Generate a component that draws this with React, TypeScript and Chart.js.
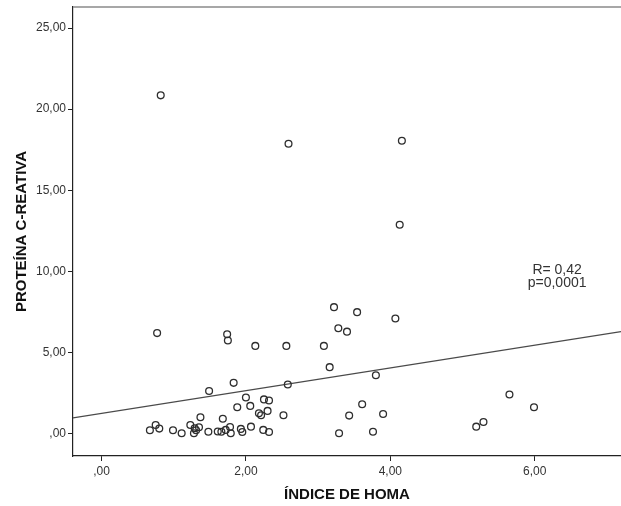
import React, { useEffect, useRef } from "react";
import { Chart, registerables } from "chart.js";

Chart.register(...registerables);

const HOMA: number[] = [
  0.82, 2.59, 4.16, 4.13, 3.22, 3.54, 4.07, 3.28, 3.40, 3.08,
  3.16, 3.80, 3.61, 3.43, 3.90, 3.29, 3.76, 5.65, 5.99, 5.29,
  5.19, 0.77, 1.74, 1.75, 2.13, 2.56, 1.83, 1.49, 2.58, 2.00,
  2.25, 2.32, 1.88, 2.06, 2.18, 2.21, 2.30, 2.52, 1.37, 1.68,
  0.75, 0.67, 0.80, 0.99, 1.11, 1.23, 1.29, 1.28, 1.35, 1.48,
  1.61, 1.66, 1.72, 1.78, 1.79, 1.93, 1.95, 2.07, 2.24, 2.32,
  1.31,
];
const PCR: number[] = [
  20.85, 17.87, 18.05, 12.87, 7.79, 7.48, 7.09, 6.49, 6.28, 5.40,
  4.09, 3.59, 1.80, 1.10, 1.20, 0.01, 0.11, 2.40, 1.62, 0.71,
  0.42, 6.19, 6.12, 5.73, 5.40, 5.40, 3.12, 2.62, 3.02, 2.22,
  2.10, 2.03, 1.62, 1.70, 1.25, 1.12, 1.39, 1.12, 1.00, 0.91,
  0.52, 0.20, 0.30, 0.20, 0.01, 0.52, 0.32, 0.01, 0.38, 0.11,
  0.12, 0.11, 0.22, 0.40, 0.01, 0.28, 0.09, 0.42, 0.22, 0.09,
  0.20,
];

const X_TICKS: number[] = [0, 2, 4, 6];
const X_TICK_LABELS: string[] = [",00", "2,00", "4,00", "6,00"];
const Y_TICKS: number[] = [0, 5, 10, 15, 20, 25];
const Y_TICK_LABELS: string[] = [",00", "5,00", "10,00", "15,00", "20,00", "25,00"];

const X_MIN = -0.395;
const X_MAX = 7.195;
const Y_MIN = -1.39;
const Y_MAX = 26.3;

const REG_INTERCEPT = 1.24;
const REG_SLOPE = 0.7;

const STATS_TEXT: string[] = ["R= 0,42", "p=0,0001"];
const STATS_POS = { x: 6.31, y: [10.1, 9.3] };

const X_TITLE = "ÍNDICE DE HOMA";
const Y_TITLE = "PROTEÍNA C-REATIVA";

const FONT = "'Liberation Sans', Arial, sans-serif";

export default function App() {
  const ref = useRef<HTMLCanvasElement | null>(null);

  useEffect(() => {
    document.body.style.margin = "0";
    const canvas = ref.current;
    if (!canvas) return;

    const points = HOMA.map((x, i) => ({ x, y: PCR[i] }));
    const line = [X_MIN, X_MAX].map((x) => ({ x, y: REG_INTERCEPT + REG_SLOPE * x }));

    const decor = {
      id: "decor",
      afterDraw(chart: any) {
        const { ctx, chartArea, scales } = chart;
        ctx.save();
        ctx.strokeStyle = "#8a8a8a";
        ctx.lineWidth = 1.5;
        ctx.beginPath();
        ctx.moveTo(chartArea.left, chartArea.top);
        ctx.lineTo(chartArea.right, chartArea.top);
        ctx.stroke();
        ctx.fillStyle = "#333";
        ctx.font = `14px ${FONT}`;
        ctx.textAlign = "center";
        ctx.textBaseline = "middle";
        STATS_TEXT.forEach((t, i) => {
          ctx.fillText(t, scales.x.getPixelForValue(STATS_POS.x), scales.y.getPixelForValue(STATS_POS.y[i]));
        });
        ctx.restore();
      },
    };

    const chart = new Chart(canvas, {
      type: "scatter",
      data: {
        datasets: [
          {
            type: "line",
            data: line,
            borderColor: "#4a4a4a",
            borderWidth: 1.2,
            pointRadius: 0,
            fill: false,
            order: 2,
          } as any,
          {
            type: "scatter",
            data: points,
            pointStyle: "circle",
            pointRadius: 3.4,
            pointBorderWidth: 1.3,
            borderColor: "#2e2e2e",
            backgroundColor: "rgba(0,0,0,0)",
            order: 1,
          } as any,
        ],
      },
      options: {
        responsive: false,
        animation: false,
        devicePixelRatio: 1,
        layout: { autoPadding: false, padding: { top: 7, right: 0, left: 0, bottom: 0 } },
        plugins: { legend: { display: false }, tooltip: { enabled: false } },
        scales: {
          x: {
            type: "linear",
            min: X_MIN,
            max: X_MAX,
            afterBuildTicks: (s: any) => {
              s.ticks = X_TICKS.map((v) => ({ value: v }));
            },
            afterFit: (s: any) => {
              s.height = 50;
              s.paddingLeft = 0;
              s.paddingRight = 0;
            },
            ticks: {
              callback: (v: any) => X_TICK_LABELS[X_TICKS.indexOf(Number(v))] ?? "",
              color: "#333",
              font: { family: FONT, size: 12 },
              padding: 3,
              maxRotation: 0,
            },
            grid: {
              drawOnChartArea: false,
              drawTicks: true,
              tickLength: 5,
              color: "#222",
              tickWidth: 1,
            },
            border: { color: "#222", width: 1.2 },
            title: {
              display: true,
              text: X_TITLE,
              color: "#111",
              font: { family: FONT, size: 15, weight: "bold" },
              padding: { top: 0, bottom: 2 },
            },
          },
          y: {
            type: "linear",
            min: Y_MIN,
            max: Y_MAX,
            afterBuildTicks: (s: any) => {
              s.ticks = Y_TICKS.map((v) => ({ value: v }));
            },
            afterFit: (s: any) => {
              s.width = 73;
              s.paddingTop = 0;
              s.paddingBottom = 0;
            },
            ticks: {
              callback: (v: any) => Y_TICK_LABELS[Y_TICKS.indexOf(Number(v))] ?? "",
              color: "#333",
              font: { family: FONT, size: 12 },
              padding: 2,
            },
            grid: {
              drawOnChartArea: false,
              drawTicks: true,
              tickLength: 5,
              color: "#222",
              tickWidth: 1,
            },
            border: { color: "#222", width: 1.2 },
            title: {
              display: true,
              text: Y_TITLE,
              color: "#111",
              font: { family: FONT, size: 15, weight: "bold" },
              padding: { top: 13, bottom: 0 },
            },
          },
        },
      },
      plugins: [decor],
    } as any);

    return () => chart.destroy();
  }, []);

  return (
    <div style={{ position: "absolute", left: 0, top: 0, width: 621, height: 506, background: "#fff" }}>
      <canvas ref={ref} width={621} height={506} style={{ display: "block" }} />
    </div>
  );
}
